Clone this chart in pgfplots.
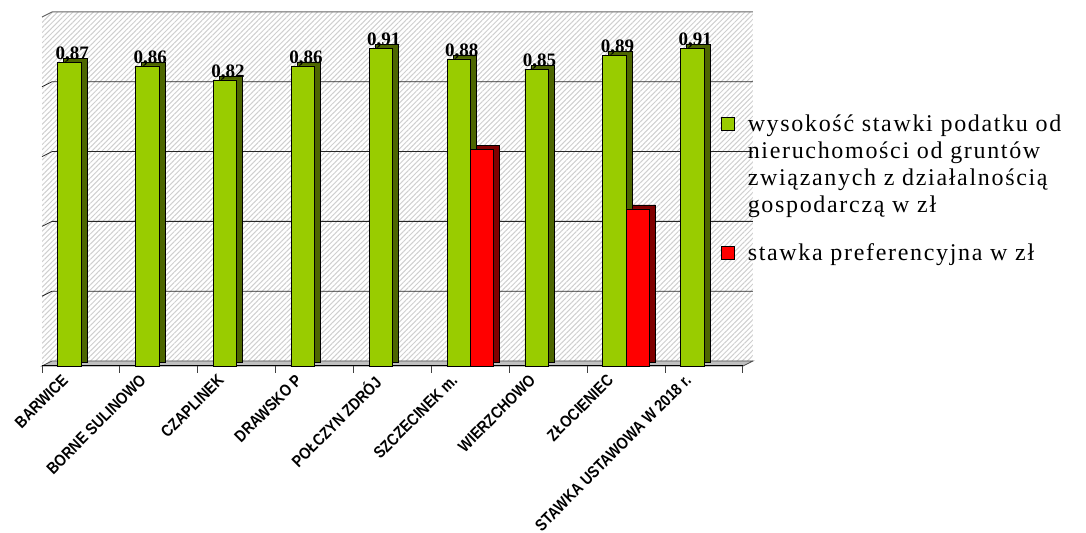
\documentclass[border=0pt]{standalone}
\usepackage{fontspec}
\setmainfont{Liberation Serif}
\newfontfamily\arial[FakeStretch=0.86]{Liberation Sans}
\newfontfamily\legfont[LetterSpace=7]{Liberation Serif}
\usepackage{pgfplots}
\pgfplotsset{compat=1.18}
\usetikzlibrary{patterns.meta}

\definecolor{barG}{HTML}{99CC00}
\definecolor{barGd}{HTML}{4D6600}
\definecolor{barR}{HTML}{FF0000}
\definecolor{barRd}{HTML}{800000}
\definecolor{floorgray}{HTML}{C0C0C0}

% stawka podatku (zielone) i stawka preferencyjna (czerwone)
\pgfplotstableread{
x rate
1 0.87
2 0.86
3 0.82
4 0.86
5 0.91
6 0.88
7 0.85
8 0.89
9 0.91
}\rates
\pgfplotstableread{
x pref
6 0.62
8 0.45
}\prefs

\begin{document}
\begin{tikzpicture}
\def\dx{5pt}\def\dy{2.5pt}
\begin{axis}[
  set layers,
  scale only axis, width=350.5pt, height=174.5pt,
  xmin=0.5, xmax=9.5, ymin=0, ymax=1,
  axis line style={draw=none},
  ytick=\empty,
  xtick={1,...,9},
  xticklabels={BARWICE, BORNE SULINOWO, CZAPLINEK, DRAWSKO P, POŁCZYN ZDRÓJ,
    SZCZECINEK m., WIERZCHOWO, ZŁOCIENIEC, STAWKA USTAWOWA W 2018 r.},
  major tick length=0pt,
  xtick pos=bottom,
  xticklabel style={font=\arial\bfseries\fontsize{8.2}{9}\selectfont, xshift=-10pt, yshift=-3.5pt,
    rotate=45, anchor=north east, inner sep=0pt},
  ybar, bar width=0.3,
  clip=false,
  legend cell align=left,
  legend style={at={(0.968,0.733)}, anchor=north west, draw=none, fill=none,
    font=\legfont\fontsize{12}{13.5}\selectfont, row sep=10pt, column sep=4.5pt,
    cells={align=left}, inner sep=0pt},
]
\begin{pgfonlayer}{axis background}
  \fill[pattern={Lines[angle=45,distance=1.8pt,line width=0.5pt]}, pattern color=gray!38]
    (rel axis cs:0,0) -- ([xshift=\dx,yshift=\dy]rel axis cs:0,0)
    -- ([xshift=\dx,yshift=\dy]rel axis cs:1,0) -- ([xshift=\dx,yshift=\dy]rel axis cs:1,1)
    -- ([xshift=\dx,yshift=\dy]rel axis cs:0,1) -- (rel axis cs:0,1) -- cycle;
  \pgfplotsinvokeforeach{0.2,0.4,0.6,0.8}{
    \draw[black!85, line width=0.4pt] (axis cs:0.5,#1) -- ([xshift=\dx,yshift=\dy]axis cs:0.5,#1)
      -- ([xshift=\dx,yshift=\dy]axis cs:9.5,#1);
  }
  \draw[gray!80!black, line width=0.5pt] (axis cs:0.5,1) -- ([xshift=\dx,yshift=\dy]axis cs:0.5,1)
      -- ([xshift=\dx,yshift=\dy]axis cs:9.5,1);
  \filldraw[fill=floorgray, draw=gray!60!black, line width=0.4pt]
    (rel axis cs:0,0) -- ([xshift=\dx,yshift=\dy]rel axis cs:0,0)
    -- ([xshift=\dx,yshift=\dy]rel axis cs:1,0) -- (rel axis cs:1,0) -- cycle;
  \draw[black, line width=0.5pt] (rel axis cs:0,0) -- (rel axis cs:1,0);
  \pgfplotsinvokeforeach{0.5,1.5,2.5,3.5,4.5,5.5,6.5,7.5,8.5,9.5}{
    \draw[gray!50!black, line width=0.5pt] (axis cs:#1,0) -- ([yshift=-3.5pt]axis cs:#1,0);
  }
\end{pgfonlayer}

% zielone słupki: bok i front
\addplot[bar shift=-0.15, fill=barGd, draw=black, line width=0.3pt,
  xshift=3pt, yshift=2pt, forget plot] table[x=x, y=rate] {\rates};
\addplot[bar shift=-0.15, fill=barG, draw=black, line width=0.3pt,
  legend image code/.code={\draw[fill=barG,draw=black,line width=0.4pt] (0pt,17.5pt) rectangle (6.5pt,24pt);},
  nodes near coords={\pgfmathprintnumber[fixed,precision=2,zerofill,use comma,assume math mode=true]{\pgfplotspointmeta}},
  nodes near coords style={font=\bfseries\fontsize{9.5}{9.5}\selectfont, anchor=south,
    xshift=1.5pt, yshift=-0.8pt, inner sep=0.5pt, text=black}]
  table[x=x, y=rate] {\rates};
\addlegendentry{wysokość stawki podatku od\\ nieruchomości od gruntów\\
  związanych z działalnością\\ gospodarczą w zł}
% czerwone słupki
\addplot[bar shift=0.15, fill=barRd, draw=black, line width=0.3pt,
  xshift=3pt, yshift=2pt, forget plot] table[x=x, y=pref] {\prefs};
\addplot[bar shift=0.15, fill=barR, draw=black, line width=0.3pt,
  legend image code/.code={\draw[fill=barR,draw=black,line width=0.4pt] (0pt,-3pt) rectangle (6.5pt,3.5pt);}]
  table[x=x, y=pref] {\prefs};
\addlegendentry{stawka preferencyjna w zł}
\end{axis}
\pgfresetboundingbox
\path (-21pt,-83.5pt) rectangle (522pt,183pt);
\end{tikzpicture}
\end{document}
